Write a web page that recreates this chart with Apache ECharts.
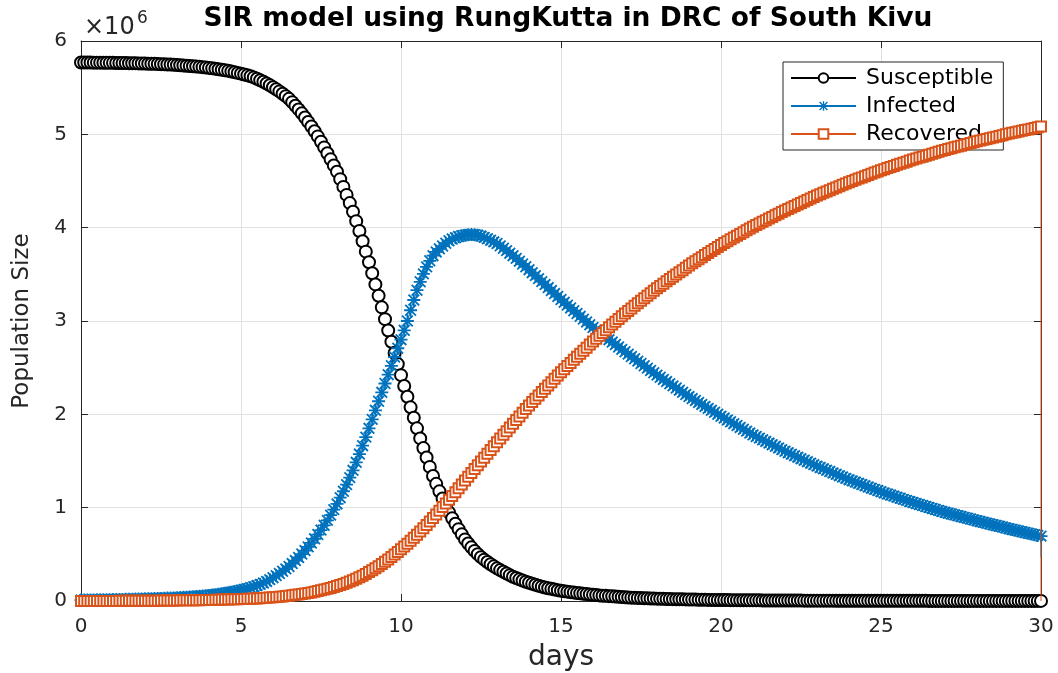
<!DOCTYPE html>
<html>
<head>
<meta charset="utf-8">
<script src="https://cdn.jsdelivr.net/npm/echarts@6/dist/echarts.min.js"></script>
<style>
html,body{margin:0;padding:0;background:#fff;}
#chart{width:1058px;height:673px;}
</style>
</head>
<body>
<div id="chart"></div>
<script>
// Time grid (days), step 0.1 from 0 to 30
const dayStep = 0.1;
const days = [];
for (let i = 0; i <= 300; i++) days.push(Math.round(i * dayStep * 10) / 10);

// Values in units of 10^6 (rows: t = k.0 ... k.9), last value at t = 30
const susceptible = [
5.770,5.770,5.769,5.769,5.768,5.768,5.768,5.767,5.767,5.766,
5.766,5.765,5.765,5.764,5.763,5.762,5.762,5.761,5.760,5.759,
5.758,5.757,5.756,5.755,5.753,5.752,5.750,5.748,5.747,5.745,
5.742,5.740,5.738,5.735,5.732,5.730,5.727,5.723,5.720,5.716,
5.712,5.707,5.702,5.697,5.692,5.686,5.680,5.673,5.666,5.658,
5.650,5.641,5.632,5.622,5.610,5.595,5.580,5.563,5.545,5.526,
5.505,5.483,5.460,5.435,5.409,5.380,5.345,5.307,5.267,5.225,
5.180,5.133,5.084,5.033,4.978,4.920,4.860,4.797,4.732,4.667,
4.600,4.520,4.437,4.351,4.263,4.170,4.070,3.965,3.855,3.743,
3.630,3.512,3.392,3.270,3.146,3.020,2.898,2.777,2.657,2.538,
2.420,2.303,2.188,2.075,1.963,1.850,1.742,1.638,1.537,1.437,
1.340,1.255,1.175,1.098,1.024,0.950,0.887,0.827,0.770,0.714,
0.660,0.616,0.575,0.537,0.502,0.470,0.443,0.418,0.394,0.371,
0.350,0.331,0.313,0.295,0.277,0.260,0.246,0.232,0.219,0.207,
0.195,0.184,0.174,0.164,0.154,0.145,0.137,0.130,0.123,0.116,
0.110,0.105,0.100,0.095,0.090,0.086,0.082,0.078,0.074,0.070,
0.066,0.063,0.060,0.057,0.055,0.052,0.050,0.047,0.045,0.042,
0.040,0.038,0.036,0.035,0.033,0.032,0.030,0.029,0.027,0.026,
0.025,0.024,0.023,0.022,0.021,0.020,0.019,0.018,0.018,0.017,
0.016,0.015,0.015,0.014,0.014,0.013,0.012,0.012,0.011,0.011,
0.010,0.010,0.010,0.009,0.009,0.009,0.008,0.008,0.008,0.007,
0.007,0.007,0.007,0.006,0.006,0.006,0.006,0.006,0.005,0.005,
0.005,0.005,0.005,0.005,0.005,0.005,0.004,0.004,0.004,0.004,
0.004,0.004,0.004,0.004,0.004,0.004,0.003,0.003,0.003,0.003,
0.003,0.003,0.003,0.003,0.003,0.003,0.002,0.002,0.002,0.002,
0.002,0.002,0.002,0.002,0.002,0.002,0.002,0.002,0.002,0.002,
0.002,0.002,0.002,0.002,0.002,0.001,0.001,0.001,0.001,0.001,
0.001,0.001,0.001,0.001,0.001,0.001,0.001,0.001,0.001,0.001,
0.001,0.001,0.001,0.001,0.001,0.001,0.001,0.001,0.001,0.001,
0.001,0.001,0.001,0.001,0.001,0.001,0.001,0.001,0.001,0.001,
0.001
];

const infected = [
0.0100,0.0104,0.0108,0.0112,0.0117,0.0122,0.0127,0.0132,0.0138,0.0144,
0.0150,0.0157,0.0164,0.0171,0.0178,0.0186,0.0194,0.0202,0.0211,0.0220,
0.023,0.024,0.025,0.026,0.027,0.028,0.029,0.031,0.032,0.033,
0.035,0.037,0.039,0.041,0.043,0.045,0.048,0.051,0.054,0.057,
0.060,0.064,0.068,0.072,0.077,0.082,0.088,0.094,0.101,0.108,
0.115,0.123,0.132,0.142,0.153,0.165,0.178,0.193,0.210,0.229,
0.250,0.272,0.295,0.319,0.344,0.370,0.401,0.433,0.467,0.503,
0.540,0.580,0.622,0.666,0.712,0.760,0.811,0.864,0.920,0.979,
1.040,1.107,1.176,1.247,1.322,1.400,1.486,1.574,1.664,1.756,
1.850,1.946,2.043,2.140,2.236,2.330,2.425,2.520,2.614,2.708,
2.800,2.900,3.000,3.115,3.225,3.330,3.420,3.505,3.580,3.645,
3.700,3.740,3.773,3.803,3.833,3.860,3.878,3.893,3.905,3.914,
3.920,3.924,3.926,3.925,3.919,3.910,3.896,3.881,3.865,3.848,
3.830,3.805,3.780,3.754,3.727,3.700,3.671,3.641,3.611,3.581,
3.550,3.518,3.486,3.454,3.422,3.390,3.358,3.326,3.294,3.262,
3.230,3.200,3.170,3.140,3.110,3.080,3.050,3.020,2.990,2.960,
2.930,2.904,2.878,2.852,2.826,2.800,2.774,2.748,2.722,2.696,
2.670,2.645,2.620,2.595,2.570,2.545,2.520,2.495,2.470,2.445,
2.420,2.397,2.374,2.351,2.328,2.305,2.282,2.259,2.236,2.213,
2.190,2.169,2.148,2.127,2.106,2.085,2.064,2.043,2.022,2.001,
1.980,1.960,1.940,1.920,1.900,1.880,1.860,1.840,1.820,1.800,
1.780,1.762,1.745,1.727,1.710,1.692,1.675,1.657,1.640,1.622,
1.605,1.589,1.573,1.557,1.541,1.525,1.509,1.493,1.477,1.461,
1.445,1.430,1.416,1.401,1.387,1.372,1.358,1.343,1.329,1.314,
1.300,1.287,1.274,1.261,1.248,1.235,1.222,1.209,1.196,1.183,
1.170,1.158,1.147,1.135,1.124,1.112,1.101,1.089,1.078,1.066,
1.055,1.044,1.034,1.023,1.013,1.002,0.992,0.981,0.971,0.960,
0.950,0.941,0.932,0.923,0.914,0.905,0.896,0.887,0.878,0.869,
0.860,0.851,0.843,0.834,0.826,0.817,0.809,0.800,0.792,0.783,
0.775,0.767,0.759,0.751,0.743,0.735,0.727,0.719,0.711,0.703,
0.695
];

const recovered = [
0.000,0.000,0.000,0.000,0.000,0.001,0.001,0.001,0.001,0.001,
0.001,0.001,0.002,0.002,0.002,0.002,0.002,0.003,0.003,0.003,
0.003,0.003,0.004,0.004,0.004,0.005,0.005,0.005,0.006,0.006,
0.006,0.007,0.007,0.008,0.008,0.008,0.009,0.009,0.010,0.011,
0.011,0.012,0.013,0.014,0.015,0.016,0.017,0.018,0.019,0.020,
0.021,0.022,0.024,0.025,0.027,0.028,0.030,0.033,0.035,0.037,
0.040,0.043,0.046,0.049,0.053,0.057,0.061,0.066,0.070,0.075,
0.080,0.086,0.092,0.099,0.106,0.114,0.122,0.131,0.140,0.150,
0.160,0.171,0.183,0.196,0.209,0.223,0.238,0.254,0.271,0.290,
0.310,0.330,0.351,0.373,0.396,0.420,0.445,0.471,0.498,0.526,
0.555,0.584,0.614,0.645,0.677,0.710,0.744,0.779,0.815,0.852,
0.890,0.928,0.967,1.006,1.045,1.085,1.125,1.166,1.207,1.248,
1.290,1.331,1.372,1.413,1.454,1.495,1.536,1.577,1.618,1.659,
1.700,1.740,1.780,1.820,1.860,1.900,1.939,1.978,2.017,2.056,
2.095,2.131,2.167,2.203,2.239,2.275,2.310,2.345,2.380,2.415,
2.450,2.484,2.517,2.551,2.584,2.617,2.649,2.682,2.714,2.747,
2.780,2.811,2.841,2.872,2.902,2.932,2.962,2.992,3.021,3.051,
3.080,3.108,3.135,3.163,3.190,3.217,3.244,3.271,3.297,3.324,
3.350,3.375,3.400,3.425,3.449,3.473,3.497,3.521,3.545,3.570,
3.595,3.618,3.640,3.662,3.684,3.706,3.728,3.750,3.772,3.793,
3.815,3.835,3.855,3.875,3.894,3.913,3.932,3.952,3.971,3.990,
4.010,4.028,4.045,4.063,4.080,4.098,4.115,4.133,4.150,4.168,
4.185,4.201,4.217,4.233,4.249,4.265,4.281,4.297,4.313,4.329,
4.345,4.359,4.374,4.388,4.402,4.416,4.430,4.445,4.459,4.473,
4.487,4.500,4.513,4.526,4.538,4.551,4.564,4.577,4.590,4.602,
4.615,4.627,4.638,4.650,4.661,4.673,4.684,4.696,4.707,4.719,
4.730,4.740,4.751,4.761,4.771,4.782,4.792,4.802,4.813,4.823,
4.833,4.842,4.851,4.861,4.870,4.879,4.888,4.897,4.907,4.916,
4.925,4.933,4.942,4.950,4.958,4.967,4.975,4.983,4.991,5.000,
5.008,5.016,5.023,5.031,5.038,5.046,5.053,5.061,5.068,5.076,
5.083
];

// Final extra sample at the last day (vertical drop at the end of the run)
const endDay = 30;
const endInfected = 0.47;
const endRecovered = 0.0;

const xTicks = [0, 5, 10, 15, 20, 25, 30];
const yTicks = [0, 1, 2, 3, 4, 5, 6];
const seriesNames = ['Susceptible', 'Infected', 'Recovered'];

const FONT = 'DejaVu Sans';
const TXT = '#262626';

const asterisk = 'path://M43 0L57 0L57 100L43 100Z M0 43L100 43L100 57L0 57Z M14 4L96 86L86 96L4 14Z M86 4L96 14L14 96L4 86Z';

function pairs(ys, extra) {
  const d = days.map((t, i) => [t, ys[i]]);
  if (extra !== undefined) d.push({ value: [endDay, extra], symbol: 'none' });
  return d;
}

const chart = echarts.init(document.getElementById('chart'));
const axisCommon = {
  type: 'value',
  axisLine: { show: true, onZero: false, lineStyle: { color: TXT, width: 1 } },
  axisTick: { show: true, inside: true, length: 7, lineStyle: { color: TXT } },
};
chart.setOption({
  animation: false,
  backgroundColor: '#fff',
  title: {
    text: 'SIR model using RungKutta in DRC of South Kivu',
    left: 563, top: 1, textAlign: 'center',
    textStyle: { fontFamily: FONT, fontWeight: 'bold', fontSize: 26.5, color: '#000' }
  },
  grid: { left: 81, right: 17, top: 41, bottom: 72, containLabel: false, outerBoundsMode: 'none' },
  legend: {
    data: seriesNames,
    orient: 'vertical',
    left: 783, top: 62,
    itemWidth: 65, itemHeight: 12, itemGap: 6,
    padding: [5, 10, 5, 7],
    backgroundColor: '#fff',
    borderColor: TXT, borderWidth: 1,
    textStyle: { fontFamily: FONT, fontSize: 22, color: '#000', lineHeight: 21, padding: [0, 0, 0, 5] }
  },
  xAxis: [
    Object.assign({}, axisCommon, {
      position: 'bottom', min: xTicks[0], max: xTicks[xTicks.length - 1], interval: 5,
      name: 'days', nameLocation: 'middle', nameGap: 43,
      nameTextStyle: { fontFamily: FONT, fontSize: 28, color: TXT },
      axisLabel: { fontFamily: FONT, fontSize: 20, color: TXT, margin: 16 },
      splitLine: { show: true, lineStyle: { color: '#e1e1e1', width: 1 } }
    }),
    Object.assign({}, axisCommon, {
      position: 'top', min: xTicks[0], max: xTicks[xTicks.length - 1], interval: 5,
      axisLabel: { show: false }, splitLine: { show: false }
    })
  ],
  yAxis: [
    Object.assign({}, axisCommon, {
      position: 'left', min: yTicks[0], max: yTicks[yTicks.length - 1], interval: 1,
      name: 'Population Size', nameLocation: 'middle', nameGap: 47, nameRotate: 90,
      nameTextStyle: { fontFamily: FONT, fontSize: 23, color: TXT },
      axisLabel: { fontFamily: FONT, fontSize: 20, color: TXT, margin: 14 },
      splitLine: { show: true, lineStyle: { color: '#e1e1e1', width: 1 } }
    }),
    Object.assign({}, axisCommon, {
      position: 'right', min: yTicks[0], max: yTicks[yTicks.length - 1], interval: 1,
      axisLabel: { show: false }, splitLine: { show: false }
    })
  ],
  graphic: [
    { type: 'text', left: 84, top: 16, style: { text: '×10', font: '24px "DejaVu Sans"', fill: TXT } },
    { type: 'text', left: 137, top: 10, style: { text: '6', font: '17px "DejaVu Sans"', fill: TXT } }
  ],
  series: [
    {
      name: seriesNames[0], type: 'line', data: pairs(susceptible),
      symbol: 'emptyCircle', symbolSize: 12, showAllSymbol: true,
      lineStyle: { color: '#000', width: 1 },
      itemStyle: { color: '#000', borderWidth: 1.6 },
      emphasis: { disabled: true }, z: 2
    },
    {
      name: seriesNames[1], type: 'line', data: pairs(infected, endInfected),
      symbol: asterisk, symbolSize: 13, showAllSymbol: true,
      lineStyle: { color: '#0072BD', width: 1 },
      itemStyle: { color: '#0072BD' },
      emphasis: { disabled: true }, z: 3
    },
    {
      name: seriesNames[2], type: 'line', data: pairs(recovered, endRecovered),
      symbol: 'emptyRect', symbolSize: 10, showAllSymbol: true,
      lineStyle: { color: '#D95319', width: 1 },
      itemStyle: { color: '#D95319', borderWidth: 1.6 },
      emphasis: { disabled: true }, z: 4
    }
  ]
});
</script>
</body>
</html>
